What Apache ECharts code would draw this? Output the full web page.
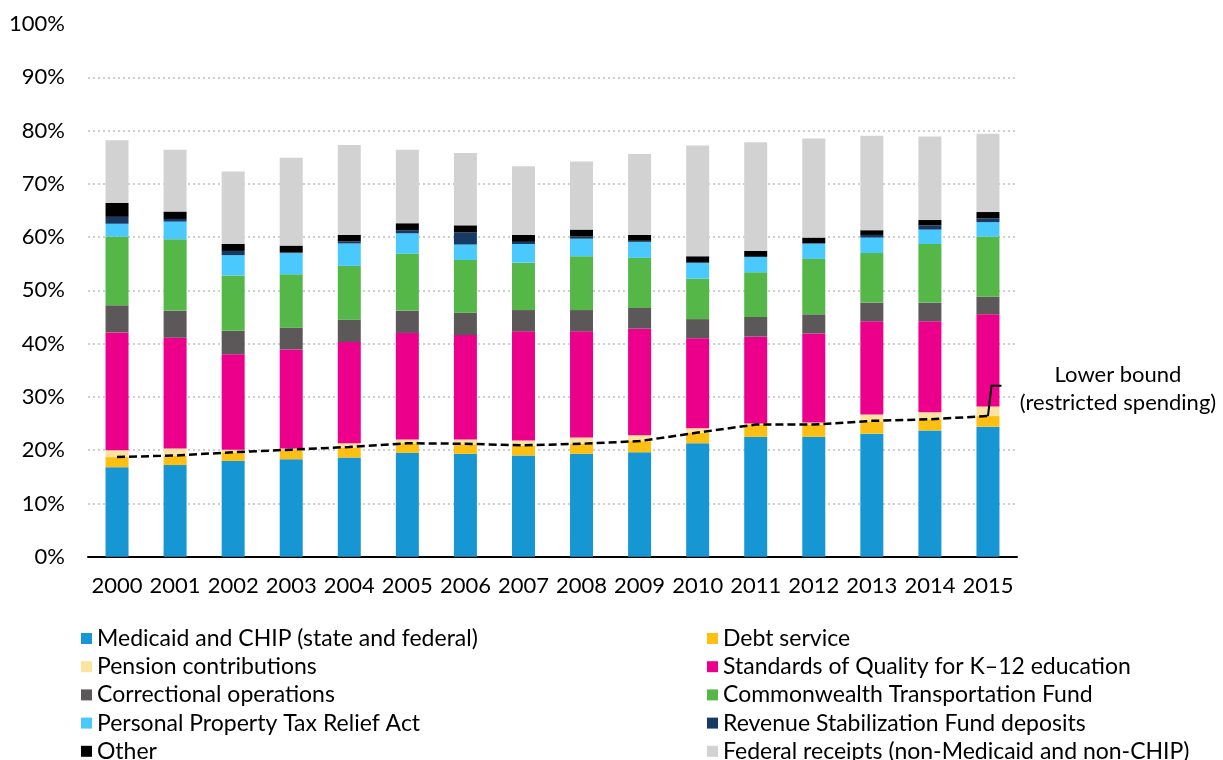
<!DOCTYPE html>
<html>
<head>
<meta charset="utf-8">
<script src="https://cdn.jsdelivr.net/npm/echarts@6/dist/echarts.min.js"></script>
<style>html,body{margin:0;padding:0;background:#fff;}#c{width:1223px;height:760px;}</style>
</head>
<body>
<div id="c"></div>
<script>
var years = ['2000','2001','2002','2003','2004','2005','2006','2007','2008','2009','2010','2011','2012','2013','2014','2015'];
var yTicks = [0,10,20,30,40,50,60,70,80,90,100];

var medicaid       = [16.8,17.2,18.0,18.3,18.6,19.5,19.3,19.0,19.3,19.6,21.3,22.5,22.5,23.1,23.7,24.4];
var debtService    = [1.9,1.8,1.6,1.8,1.9,1.8,1.8,1.8,1.9,2.1,2.0,2.3,2.3,2.3,2.1,2.0];
var pension        = [1.3,1.3,0.5,0.2,0.8,0.7,0.9,1.0,1.2,1.1,0.8,0.2,0.4,1.3,1.3,1.8];
var soq            = [22.1,20.8,17.9,18.6,19.0,20.0,19.6,20.5,19.9,20.0,16.9,16.3,16.7,17.5,17.1,17.3];
var correctional   = [5.1,5.1,4.4,4.1,4.2,4.2,4.2,4.0,4.0,3.9,3.6,3.7,3.6,3.5,3.5,3.3];
var transportation = [12.9,13.4,10.4,10.0,10.1,10.7,9.9,8.9,10.1,9.4,7.6,8.4,10.4,9.3,11.0,11.3];
var pptra          = [2.4,3.3,3.8,4.0,4.2,3.8,2.9,3.5,3.3,3.0,3.0,2.9,2.9,2.9,2.7,2.7];
var revenueStab    = [1.3,0.5,0.8,0.1,0.4,0.6,2.3,0.4,0.4,0.2,0.0,0.0,0.0,0.5,0.8,0.7];
var other          = [2.6,1.4,1.3,1.3,1.2,1.3,1.3,1.3,1.3,1.1,1.2,1.1,1.1,0.9,1.0,1.2];
var federal        = [11.8,11.6,13.6,16.5,16.9,13.8,13.6,12.9,12.8,15.2,20.8,20.4,18.6,17.7,15.7,14.7];
var lowerBound     = [18.7,19.0,19.6,20.1,20.6,21.3,21.2,20.9,21.2,21.7,23.3,24.8,24.8,25.5,25.8,26.4];

var seriesDefs = [
  ['Medicaid and CHIP (state and federal)', medicaid, '#1696d2'],
  ['Debt service', debtService, '#fdbf11'],
  ['Pension contributions', pension, '#fce39e'],
  ['Standards of Quality for K\u201312 education', soq, '#ec008b'],
  ['Correctional operations', correctional, '#5c5859'],
  ['Commonwealth Transportation Fund', transportation, '#55b748'],
  ['Personal Property Tax Relief Act', pptra, '#49c9fd'],
  ['Revenue Stabilization Fund deposits', revenueStab, '#173a64'],
  ['Other', other, '#000000'],
  ['Federal receipts (non-Medicaid and non-CHIP)', federal, '#d2d2d2']
];

var FONT = 'Lato';
var FS = 22;
var series = seriesDefs.map(function (d) {
  return {
    name: d[0], type: 'bar', stack: 'total', barWidth: 23,
    data: d[1], itemStyle: { color: d[2] }, emphasis: { disabled: true }
  };
});
series.push({
  name: 'Lower bound', type: 'line', data: lowerBound, symbol: 'none', z: 10,
  lineStyle: { color: '#000', width: 2.5, type: [8, 4] }, emphasis: { disabled: true }
});

var legendBase = {
  orient: 'vertical', itemWidth: 11, itemHeight: 11, itemGap: 5.2, icon: 'rect',
  height: 200, padding: 0,
  textStyle: { fontFamily: FONT, fontSize: 23, color: '#000', lineHeight: 22 },
  selectedMode: false
};
var leftNames = [0, 2, 4, 6, 8].map(function (i) { return seriesDefs[i][0]; });
var rightNames = [1, 3, 5, 7, 9].map(function (i) { return seriesDefs[i][0]; });

var gridColors = yTicks.map(function (t) { return t === 100 ? 'rgba(0,0,0,0)' : '#cfcfcf'; });

var chart = echarts.init(document.getElementById('c'), null, { renderer: 'canvas' });
chart.setOption({
  animation: false,
  backgroundColor: '#fff',
  textStyle: { fontFamily: FONT },
  grid: { left: 88, right: 206, top: 24, bottom: 203.3, containLabel: false },
  legend: [
    Object.assign({}, legendBase, { left: 81, top: 627, data: leftNames }),
    Object.assign({}, legendBase, { left: 707, top: 627, data: rightNames })
  ],
  xAxis: {
    type: 'category', data: years,
    axisLine: { lineStyle: { color: '#000', width: 2 } },
    axisTick: { show: false },
    axisLabel: { fontFamily: FONT, fontSize: FS, color: '#000', margin: 18, interval: 0 }
  },
  yAxis: {
    type: 'value', min: 0, max: 100, interval: 10,
    axisLine: { show: false }, axisTick: { show: false },
    axisLabel: { fontFamily: FONT, fontSize: FS, color: '#000', margin: 23, formatter: '{value}%' },
    splitLine: { lineStyle: { color: gridColors, width: 2, type: [2, 3] } }
  },
  series: series
});

var last = years.length - 1;
var p0 = chart.convertToPixel({ gridIndex: 0 }, [years[last], lowerBound[last]]);
var p1 = chart.convertToPixel({ gridIndex: 0 }, [years[last], 32.1]);
chart.setOption({
  graphic: [
    { type: 'polyline', z: 20, shape: { points: [[p0[0], p0[1]], [p1[0] + 3.5, p1[1]], [p1[0] + 13.5, p1[1]]] },
      style: { stroke: '#000', lineWidth: 2, fill: null } },
    { type: 'text', z: 20, x: 1118, y: 375, style: { text: 'Lower bound', fontFamily: FONT, fontSize: FS, fill: '#000', align: 'center', verticalAlign: 'middle' } },
    { type: 'text', z: 20, x: 1118, y: 403, style: { text: '(restricted spending)', fontFamily: FONT, fontSize: FS, fill: '#000', align: 'center', verticalAlign: 'middle' } }
  ]
});
</script>
</body>
</html>
